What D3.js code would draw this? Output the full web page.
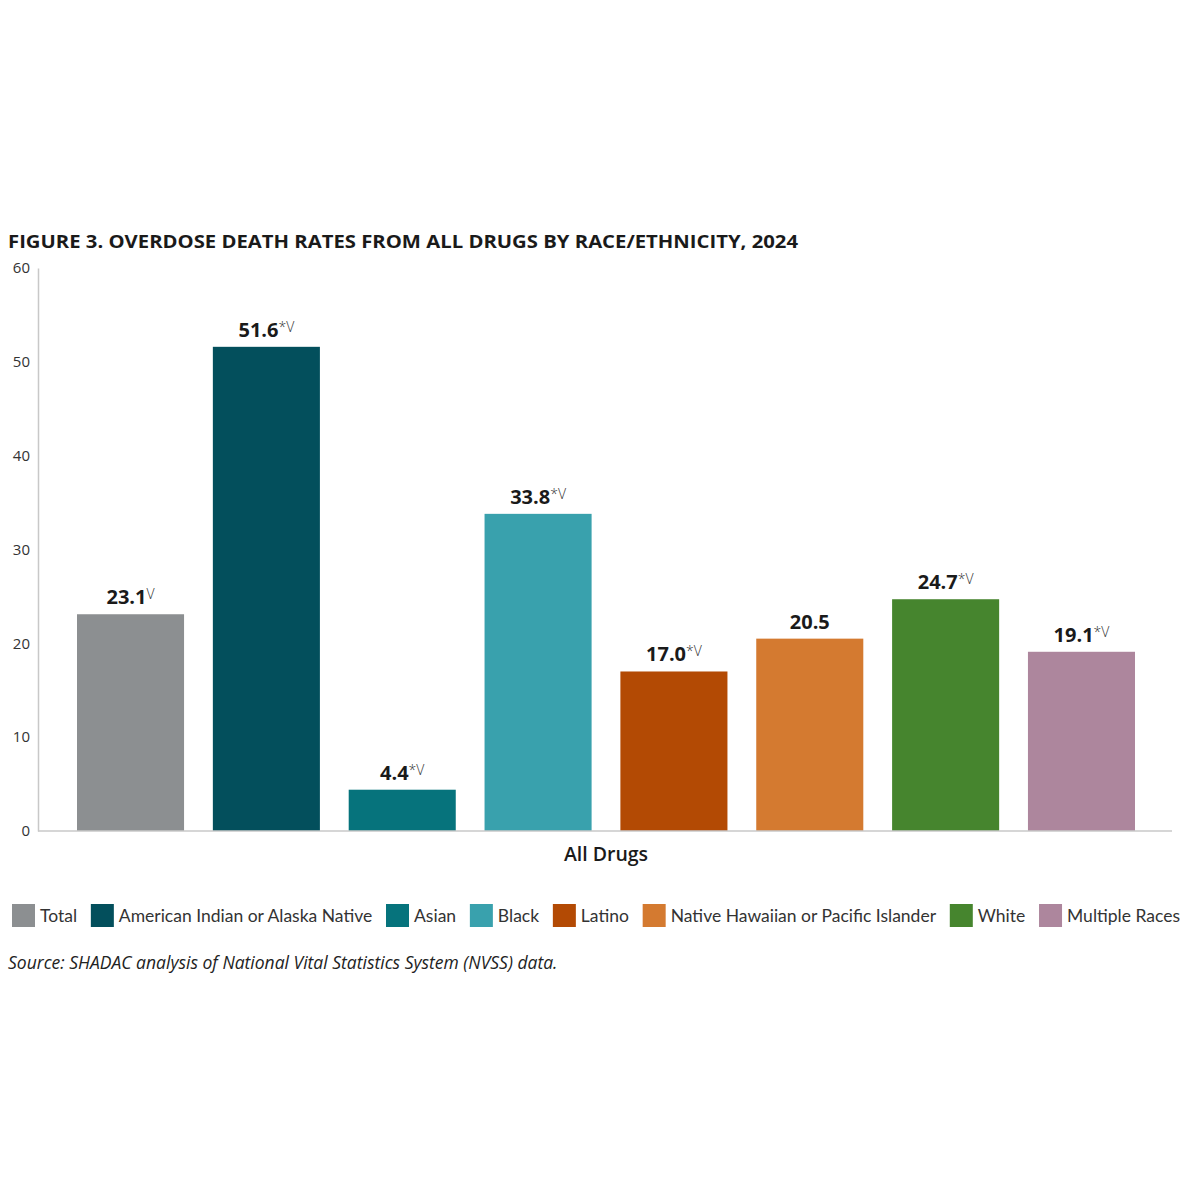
<!DOCTYPE html>
<html>
<head>
<meta charset="utf-8">
<script src="https://cdn.jsdelivr.net/npm/d3@7"></script>
<style>
  html, body { margin: 0; padding: 0; background: #ffffff; }
  svg { display: block; }
</style>
</head>
<body>
<svg id="chart" width="1200" height="1200"></svg>
<script>
const categories = ["Total", "American Indian or Alaska Native", "Asian", "Black", "Latino", "Native Hawaiian or Pacific Islander", "White", "Multiple Races"];
const values = [23.1, 51.6, 4.4, 33.8, 17.0, 20.5, 24.7, 19.1];
const valueLabels = ["23.1", "51.6", "4.4", "33.8", "17.0", "20.5", "24.7", "19.1"];
const markers = ["V", "*V", "*V", "*V", "*V", "", "*V", "*V"];
const colors = ["#8c8f91", "#034f5c", "#06737c", "#39a1ad", "#b34a04", "#d47a30", "#46852e", "#ad869d"];
const yTicks = [0, 10, 20, 30, 40, 50, 60];
const title = "FIGURE 3. OVERDOSE DEATH RATES FROM ALL DRUGS BY RACE/ETHNICITY, 2024";
const groupLabel = "All Drugs";
const source = "Source: SHADAC analysis of National Vital Statistics System (NVSS) data.";

const svg = d3.select("#chart");
const font = "'Open Sans', sans-serif";

const x = d3.scaleBand().domain(categories).range([77, 1135]).paddingInner(0.212).paddingOuter(0);
const y = d3.scaleLinear().domain([0, 60]).range([831, 268]);

// Title
const t = svg.append("text")
  .attr("x", 8).attr("y", 248)
  .attr("font-family", font).attr("font-weight", 700).attr("font-size", 18.5)
  .attr("fill", "#1a1a1a")
  .text(title);
const tw = t.node().getComputedTextLength();
if (Math.abs(tw - 790) > 8) t.attr("textLength", 790).attr("lengthAdjust", "spacingAndGlyphs");

// Y axis
const yAxis = svg.append("g").attr("transform", "translate(38,0)")
  .call(d3.axisLeft(y).tickValues(yTicks).tickSize(0).tickPadding(8));
yAxis.select(".domain").attr("stroke", "#c8c8c8").attr("stroke-width", 1.5);
yAxis.selectAll("text").attr("font-family", font).attr("font-size", 15).attr("fill", "#333");

// Bars
svg.append("g").selectAll("rect").data(categories).join("rect")
  .attr("x", d => x(d))
  .attr("y", (d, i) => y(values[i]))
  .attr("width", x.bandwidth())
  .attr("height", (d, i) => y(0) - y(values[i]))
  .attr("fill", (d, i) => colors[i]);

// Baseline
svg.append("line")
  .attr("x1", 38).attr("x2", 1172).attr("y1", y(0)).attr("y2", y(0))
  .attr("stroke", "#c8c8c8").attr("stroke-width", 1.5);

// Value labels
const lbl = svg.append("g").selectAll("text").data(categories).join("text")
  .attr("y", (d, i) => y(values[i]) - 10)
  .attr("font-family", font).attr("fill", "#1a1a1a");
lbl.append("tspan").attr("font-weight", 700).attr("font-size", 20)
  .text((d, i) => valueLabels[i]);
lbl.append("tspan").attr("font-weight", 300).attr("font-size", 14)
  .attr("dy", -5).attr("fill", "#333")
  .text((d, i) => markers[i]);
lbl.each(function(d) {
  const w = this.getComputedTextLength();
  d3.select(this).attr("x", x(d) + x.bandwidth() / 2 - w / 2);
});

// Group label
svg.append("text")
  .attr("x", 606).attr("y", 861).attr("text-anchor", "middle")
  .attr("font-family", font).attr("font-weight", 600).attr("font-size", 19.5)
  .attr("fill", "#1a1a1a").text(groupLabel);

// Legend
const legendFont = "Lato, 'Open Sans', sans-serif";
const lg = svg.append("g");
const items = lg.selectAll("g").data(categories).join("g");
items.append("rect").attr("width", 23).attr("height", 23).attr("y", 904)
  .attr("fill", (d, i) => colors[i]);
items.append("text").attr("x", 28).attr("y", 922)
  .attr("font-family", legendFont).attr("font-size", 17.5).attr("fill", "#333")
  .text(d => d);
const widths = [];
items.each(function() { widths.push(23 + 5 + d3.select(this).select("text").node().getComputedTextLength()); });
const total = d3.sum(widths);
const gap = (1168 - total) / (categories.length - 1);
let cx = 12;
items.each(function(d, i) {
  d3.select(this).attr("transform", `translate(${cx},0)`);
  cx += widths[i] + gap;
});

// Source
svg.append("text")
  .attr("x", 8).attr("y", 969)
  .attr("font-family", font).attr("font-style", "italic").attr("font-size", 17.5)
  .attr("fill", "#222").text(source);
</script>
</body>
</html>
